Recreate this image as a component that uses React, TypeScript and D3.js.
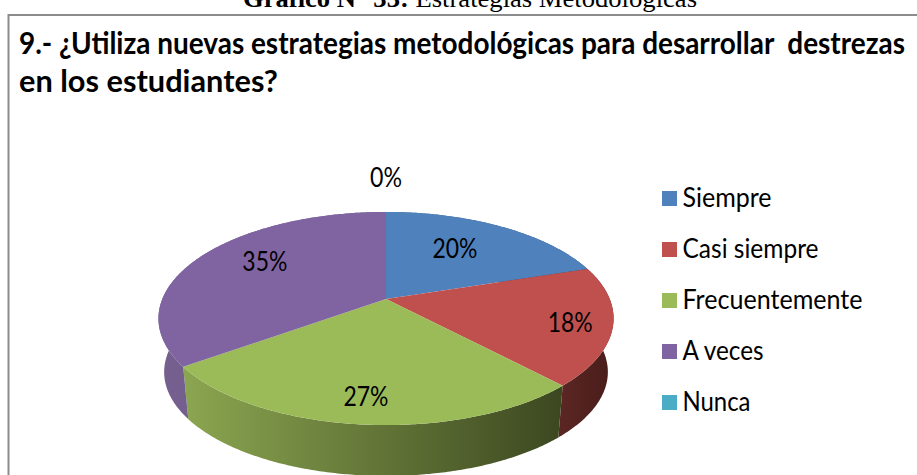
import React from "react";
import * as d3 from "d3";

const categories = ["Siempre", "Casi siempre", "Frecuentemente", "A veces", "Nunca"];
const values = [20, 18, 27, 35, 0];
const colors = ["#4f81bd", "#c0504d", "#9bbb59", "#8064a2", "#4bacc6"];
const wallFrom = ["#3d6590", "#5a2623", "#8ba650", "#75608f", "#3a8ba0"];
const wallTo = ["#2c4a6a", "#481c1a", "#3c4720", "#6a5584", "#2c6a7a"];
const labelRadius = [0.64, 0.82, 0.81, 0.7, 1.5];
const labelShiftDeg = [-4, 1, 0, 7, 0];
const legendWidths = [89, 136, 180, 81, 68];
const titleLines = ["9.- ¿Utiliza nuevas estrategias metodológicas para desarrollar  destrezas", "en los estudiantes?"];
const titleWidths = [886, 259];

const W = 917, H = 475;
const cx = 386, cy = 299, sx = 223.7, sy = 103, k = 0.183;
const depth = 54, lowerScale = 0.975;
const sans = "Lato, 'Liberation Sans', sans-serif";

const project = (theta: number, r = 1, scale = 1, dy = 0): [number, number] => {
  const u = r * Math.sin(theta), v = -r * Math.cos(theta);
  const w = 1 - k * v;
  return [cx + (sx * scale * u) / w, cy + dy + (sy * scale * v) / w];
};

const slices = d3.pie<number>().sort(null).value((d) => d)(values);
const line = d3.line();
const arcPts = (a: number, b: number, scale = 1, dy = 0) => {
  const n = Math.max(2, Math.ceil((b - a) / 0.01));
  return d3.range(n + 1).map((i) => project(a + ((b - a) * i) / n, 1, scale, dy));
};

export default function App() {
  return (
    <svg width={W} height={H} viewBox={`0 0 ${W} ${H}`} style={{ position: "absolute", left: 0, top: 0, background: "#fff" }}>
      <defs>
        {slices.map((s, i) => {
          const xs = arcPts(s.startAngle, s.endAngle).map((p) => p[0]);
          if (s.endAngle <= s.startAngle) return null;
          return (
            <linearGradient key={i} id={`wall${i}`} gradientUnits="userSpaceOnUse" x1={d3.min(xs)} x2={d3.max(xs)} y1={0} y2={0}>
              <stop offset="0" stopColor={wallFrom[i]} />
              <stop offset="1" stopColor={wallTo[i]} />
            </linearGradient>
          );
        })}
      </defs>
      <text x={243} y={7} fontFamily="'Liberation Serif', serif" fontSize={25} fill="#000" textLength={454} lengthAdjust="spacingAndGlyphs">
        <tspan fontWeight="bold">Gráfico N° 33:</tspan> Estrategias Metodológicas
      </text>
      <path d="M8.5 475V15H917" fill="none" stroke="#8c8c8c" strokeWidth={2} />
      {titleLines.map((t, i) => (
        <text key={i} x={19} y={54 + i * 38} fontFamily={sans} fontWeight={700} fontSize={30} fill="#000"
          textLength={titleWidths[i]} lengthAdjust="spacingAndGlyphs" style={{ whiteSpace: "pre" }}>{t}</text>
      ))}
      {slices.map((s, i) => {
        if (s.endAngle <= s.startAngle) return null;
        const top = arcPts(s.startAngle, s.endAngle);
        const bot = arcPts(s.startAngle, s.endAngle, lowerScale, depth).reverse();
        return <path key={i} d={line([...top, ...bot])! + "Z"} fill={`url(#wall${i})`} />;
      })}
      {slices.map((s, i) => {
        if (s.endAngle <= s.startAngle) return null;
        const pts = [[cx, cy] as [number, number], ...arcPts(s.startAngle, s.endAngle)];
        return <path key={i} d={line(pts)! + "Z"} fill={colors[i]} />;
      })}
      {slices.map((s, i) => {
        const mid = (s.startAngle + s.endAngle) / 2 + (labelShiftDeg[i] * Math.PI) / 180;
        const [x, y] = project(mid, labelRadius[i]);
        const label = d3.format(".0%")(values[i] / d3.sum(values));
        return (
          <text key={i} x={x} y={y} dy="0.35em" textAnchor="middle" fontFamily={sans} fontSize={27} fill="#000"
            textLength={label.length === 2 ? 32 : 45} lengthAdjust="spacingAndGlyphs">{label}</text>
        );
      })}
      {categories.map((c, i) => (
        <g key={c} transform={`translate(662,${191 + i * 51})`}>
          <rect width={15} height={15} fill={colors[i]} />
          <text x={20.5} y={16} fontFamily={sans} fontSize={27} fill="#000" textLength={legendWidths[i]} lengthAdjust="spacingAndGlyphs">{c}</text>
        </g>
      ))}
    </svg>
  );
}
